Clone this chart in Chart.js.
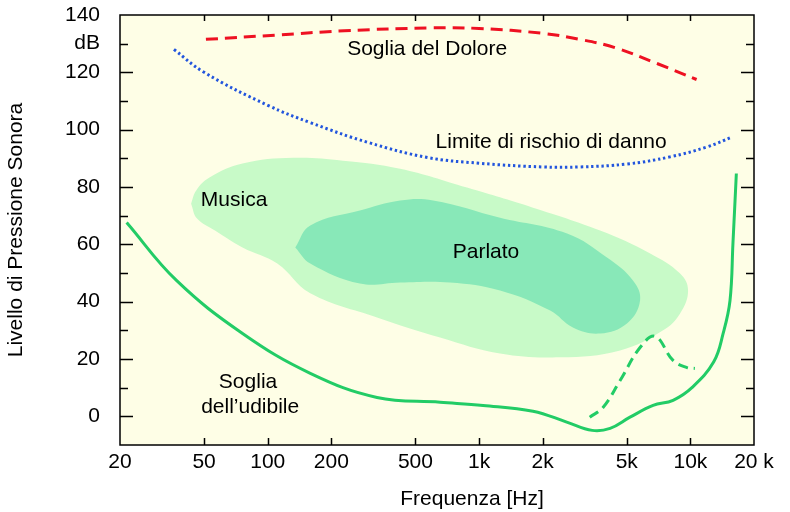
<!DOCTYPE html>
<html>
<head>
<meta charset="utf-8">
<script src="https://cdn.jsdelivr.net/npm/chart.js@4.4.1/dist/chart.umd.min.js"></script>
<style>
  html, body { margin: 0; padding: 0; background: #fff; }
</style>
</head>
<body>
<canvas id="chart" width="790" height="512"></canvas>
<script>
Chart.defaults.font.family = "'Liberation Sans', Arial, sans-serif";
Chart.defaults.font.size = 21;
Chart.defaults.color = '#000';

// --- axis ticks ---
const xTickValues = [20, 50, 100, 200, 500, 1000, 2000, 5000, 10000, 20000];
const xTickLabels = ['20', '50', '100', '200', '500', '1k', '2k', '5k', '10k', '20 k'];
const yTickValues = [0, 20, 40, 60, 80, 100, 120, 130, 140];
const yTickLabels = ['0', '20', '40', '60', '80', '100', '120', 'dB', '140'];

// --- curves (Hz, dB) ---
const painFreq = [51, 110, 230, 600, 1000, 2000, 3000, 4400, 7000, 10700];
const painDb   = [131.5, 133, 134.5, 135.5, 135.3, 133.6, 131.5, 128.6, 123, 117.5];

const riskFreq = [36, 50, 100, 160, 300, 570, 1000, 2000, 3000, 5000, 8000, 12000, 15800];
const riskDb   = [128, 120, 108.5, 102.4, 95.5, 90.3, 88.3, 87, 87, 88, 90.5, 94, 97.5];

const hearFreq = [21.5, 37, 76, 159, 329, 654, 1045, 1800, 2600, 3430, 4170, 5180, 6660, 8280, 10200, 12900, 14300, 15400, 15900, 16500];
const hearDb   = [67.6, 47.4, 28.9, 15, 6.6, 4.9, 3.8, 1.8, -2, -4.9, -4.2, -0.3, 3.8, 5.6, 10.1, 19, 29, 40.4, 60.3, 84.7];

const maskFreq = [3340, 3860, 4650, 5780, 6810, 8280, 9640, 10500];
const maskDb   = [-0.3, 3.1, 12.5, 24, 27.9, 19.5, 17, 16.7];

// --- areas (closed outlines) ---
const musicFreq = [43.4, 45.8, 53, 76, 132, 227, 423, 877, 1800, 3740, 6450, 8940, 9750, 8940, 7430, 4650, 2420, 1257, 654, 329, 159, 111, 76, 56.3, 46.3, 43.4];
const musicDb   = [74.2, 78.7, 83.3, 88.2, 90.2, 89.2, 86.4, 79.8, 72.8, 64.8, 56.8, 49.8, 43.9, 35.9, 30, 23, 20.6, 21.9, 27.5, 34.5, 42.9, 53.3, 58.9, 64.8, 69, 74.2];

const speechFreq = [135, 159, 273, 423, 606, 1257, 2610, 4030, 5350, 5780, 5010, 3740, 2780, 2170, 1257, 729, 423, 273, 159, 135];
const speechDb   = [58.9, 66.6, 71.8, 75.3, 75.3, 69.3, 63.8, 55.4, 47.4, 40.4, 32.4, 28.9, 31, 36.9, 43.9, 46.7, 46.7, 46.3, 53.3, 58.9];

// --- text labels (Hz, dB) ---
const noteText = ['Soglia del Dolore', 'Limite di rischio di danno', 'Musica', 'Parlato', 'Soglia', 'dell\u2019udibile'];
const noteFreq = [568, 2193, 69.3, 1079, 80.7, 82.6];
const noteDb   = [128.2, 95.8, 75.3, 57.1, 11.8, 3.1];

const pts = (fs, ds) => fs.map((f, i) => ({ x: f, y: ds[i] }));

const GREEN = '#22cc66';

const framePlugin = {
    id: 'frame',
    beforeDatasetsDraw(chart) {
        const { ctx, chartArea: a } = chart;
        ctx.save();
        ctx.fillStyle = '#fefee6';
        ctx.fillRect(a.left, a.top, a.right - a.left, a.bottom - a.top);
        ctx.restore();
    },
    afterDatasetsDraw(chart) {
        const { ctx, chartArea: a, scales: { x, y } } = chart;
        ctx.save();
        // annotations
        ctx.fillStyle = '#000';
        ctx.font = "21px 'Liberation Sans', Arial, sans-serif";
        ctx.textAlign = 'center';
        ctx.textBaseline = 'middle';
        noteText.forEach((t, i) => {
            ctx.fillText(t, x.getPixelForValue(noteFreq[i]), y.getPixelForValue(noteDb[i]));
        });
        ctx.fillText('Frequenza [Hz]', 472, 499);

        // frame
        ctx.strokeStyle = '#000';
        ctx.lineWidth = 1.5;
        ctx.strokeRect(a.left, a.top, a.right - a.left, a.bottom - a.top);

        // inward ticks
        ctx.beginPath();
        for (let v = 0; v <= 130; v += 10) {
            const py = Math.round(y.getPixelForValue(v)) + 0.5;
            const len = v % 20 === 0 ? 13 : 8;
            ctx.moveTo(a.left, py); ctx.lineTo(a.left + len, py);
            ctx.moveTo(a.right, py); ctx.lineTo(a.right - len, py);
        }
        xTickValues.slice(1, -1).forEach(v => {
            const px = Math.round(x.getPixelForValue(v)) + 0.5;
            ctx.moveTo(px, a.bottom); ctx.lineTo(px, a.bottom - 7);
            ctx.moveTo(px, a.top); ctx.lineTo(px, a.top + 6);
        });
        ctx.stroke();
        ctx.restore();
    }
};

const lineStyle = { tension: 0.4, pointRadius: 0, fill: false };

new Chart(document.getElementById('chart'), {
    type: 'line',
    data: {
        datasets: [
            { ...lineStyle, data: pts(hearFreq, hearDb), borderColor: GREEN, borderWidth: 3 },
            { ...lineStyle, data: pts(maskFreq, maskDb), borderColor: GREEN, borderWidth: 3, borderDash: [10, 6] },
            { ...lineStyle, data: pts(riskFreq, riskDb), borderColor: '#2255dd', borderWidth: 3, borderDash: [2.4, 2.8] },
            { ...lineStyle, data: pts(painFreq, painDb), borderColor: '#ee1122', borderWidth: 3, borderDash: [12, 7] },
            { data: pts(speechFreq, speechDb), borderWidth: 0, backgroundColor: '#88e8b8', tension: 0.4, pointRadius: 0, fill: 'shape' },
            { data: pts(musicFreq, musicDb), borderWidth: 0, backgroundColor: '#c8fac8', tension: 0.4, pointRadius: 0, fill: 'shape' }
        ]
    },
    options: {
        responsive: false,
        animation: false,
        layout: { padding: { top: 15, right: 36, left: 0, bottom: 0 } },
        plugins: { legend: { display: false }, tooltip: { enabled: false } },
        scales: {
            x: {
                type: 'logarithmic', min: 20, max: 20000,
                grid: { display: false, drawTicks: false },
                border: { display: false },
                afterBuildTicks: s => { s.ticks = xTickValues.map(v => ({ value: v })); },
                afterFit: s => { s.height = 67; s.paddingLeft = 0; s.paddingRight = 0; },
                ticks: { padding: 5, autoSkip: false, maxRotation: 0, callback: (v, i) => xTickLabels[i] }
            },
            y: {
                min: -10, max: 140,
                grid: { display: false, drawTicks: false },
                border: { display: false },
                afterBuildTicks: s => { s.ticks = yTickValues.map(v => ({ value: v })); },
                afterFit: s => { s.width = 120; s.paddingTop = 0; s.paddingBottom = 0; },
                ticks: { padding: 20, autoSkip: false, callback: (v, i) => yTickLabels[i] },
                title: { display: true, text: 'Livello di Pressione Sonora', padding: { top: 4, bottom: 0 } }
            }
        }
    },
    plugins: [framePlugin]
});
</script>
</body>
</html>
